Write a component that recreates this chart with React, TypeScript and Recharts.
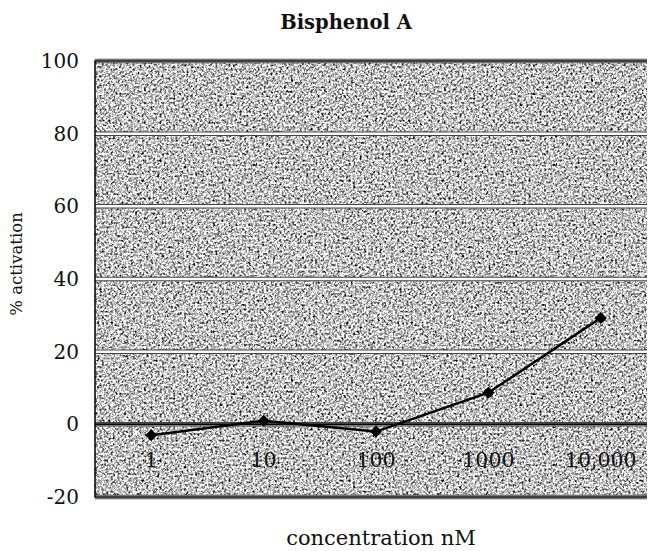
import React from 'react';
import { LineChart, Line, XAxis, YAxis, CartesianGrid, ReferenceArea, ReferenceLine } from 'recharts';

const concentrations = ['1', '10', '100', '1000', '10,000'];
const activation = [-3, 1, -2, 8.7, 29.3];
const yTicks = [-20, 0, 20, 40, 60, 80, 100];

const data = concentrations.map((c, i) => ({ conc: c, value: activation[i] }));

const SERIF = '"DejaVu Serif", "Liberation Serif", serif';

// labels sit inside the plot, just above the bottom border
const InsideTick = ({ x, y, payload }: any) => (
  <text x={x} y={y - 30} textAnchor="middle" fontFamily={SERIF} fontSize={20.5} fill="#111">
    {payload.value}
  </text>
);

const Diamond = ({ cx, cy }: any) => {
  if (cx == null || cy == null) return null;
  const r = 6;
  return <polygon points={`${cx},${cy - r} ${cx + r},${cy} ${cx},${cy + r} ${cx - r},${cy}`} fill="#000" />;
};

const YLabel = ({ viewBox }: any) => {
  const x = viewBox.x + 22;
  const y = viewBox.y + viewBox.height / 2 - 15;
  return (
    <text x={x} y={y} transform={`rotate(-90 ${x} ${y})`} textAnchor="middle" fontFamily={SERIF} fontSize={16.5} fill="#111">
      % activation
    </text>
  );
};

export default function App() {
  return (
    <div style={{ position: 'absolute', left: 0, top: 0, width: 647, height: 551, overflow: 'hidden', background: '#fff' }}>
      <div style={{ position: 'absolute', top: 11, left: 246, width: 200, textAlign: 'center', fontFamily: SERIF, fontWeight: 'bold', fontSize: 19.5, color: '#111' }}>
        Bisphenol A
      </div>
      <LineChart width={660} height={551} data={data} margin={{ top: 61, right: 3, bottom: 0, left: 0 }}>
        <defs>
          <filter id="noiseF" x="0" y="0" width="100%" height="100%" colorInterpolationFilters="sRGB">
            <feTurbulence type="fractalNoise" baseFrequency="0.45" numOctaves={3} seed={7} />
            <feColorMatrix
              type="matrix"
              values="0.33 0.33 0.33 0 0  0.33 0.33 0.33 0 0  0.33 0.33 0.33 0 0  0 0 0 0 1"
            />
            <feComponentTransfer>
              <feFuncR type="linear" slope={3.8} intercept={-1.12} />
              <feFuncG type="linear" slope={3.8} intercept={-1.12} />
              <feFuncB type="linear" slope={3.8} intercept={-1.12} />
            </feComponentTransfer>
          </filter>
          <pattern id="noise" width="300" height="300" patternUnits="userSpaceOnUse">
            <rect width="300" height="300" fill="#fff" filter="url(#noiseF)" />
          </pattern>
        </defs>
        {/* dark edge under each white grid line, like the scanned original */}
        <CartesianGrid vertical={false} stroke="#444" strokeWidth={4.5} fill="url(#noise)" fillOpacity={1} />
        <CartesianGrid vertical={false} stroke="#fff" strokeWidth={2.5} />
        <XAxis
          dataKey="conc"
          scale="band"
          height={54}
          axisLine={false}
          tickLine={false}
          tickSize={0}
          tickMargin={0}
          tick={<InsideTick />}
          interval={0}
          label={{ value: 'concentration nM', position: 'insideBottom', offset: 6, dx: 5, fontFamily: SERIF, fontSize: 21, fill: '#111' }}
        />
        <YAxis
          domain={[-20, 100]}
          ticks={yTicks}
          width={95}
          axisLine={false}
          tickLine={false}
          tickMargin={16}
          tickSize={0}
          tick={{ fontFamily: SERIF, fontSize: 20, fill: '#111' }}
          label={<YLabel />}
        />
        <ReferenceArea y1={-20} y2={100} fill="none" stroke="#000" strokeWidth={1.5} ifOverflow="visible" />
        <ReferenceLine y={0} stroke="#000" strokeWidth={2} />
        <Line
          dataKey="value"
          stroke="#000"
          strokeWidth={2.5}
          dot={<Diamond />}
          activeDot={false}
          isAnimationActive={false}
        />
      </LineChart>
    </div>
  );
}
